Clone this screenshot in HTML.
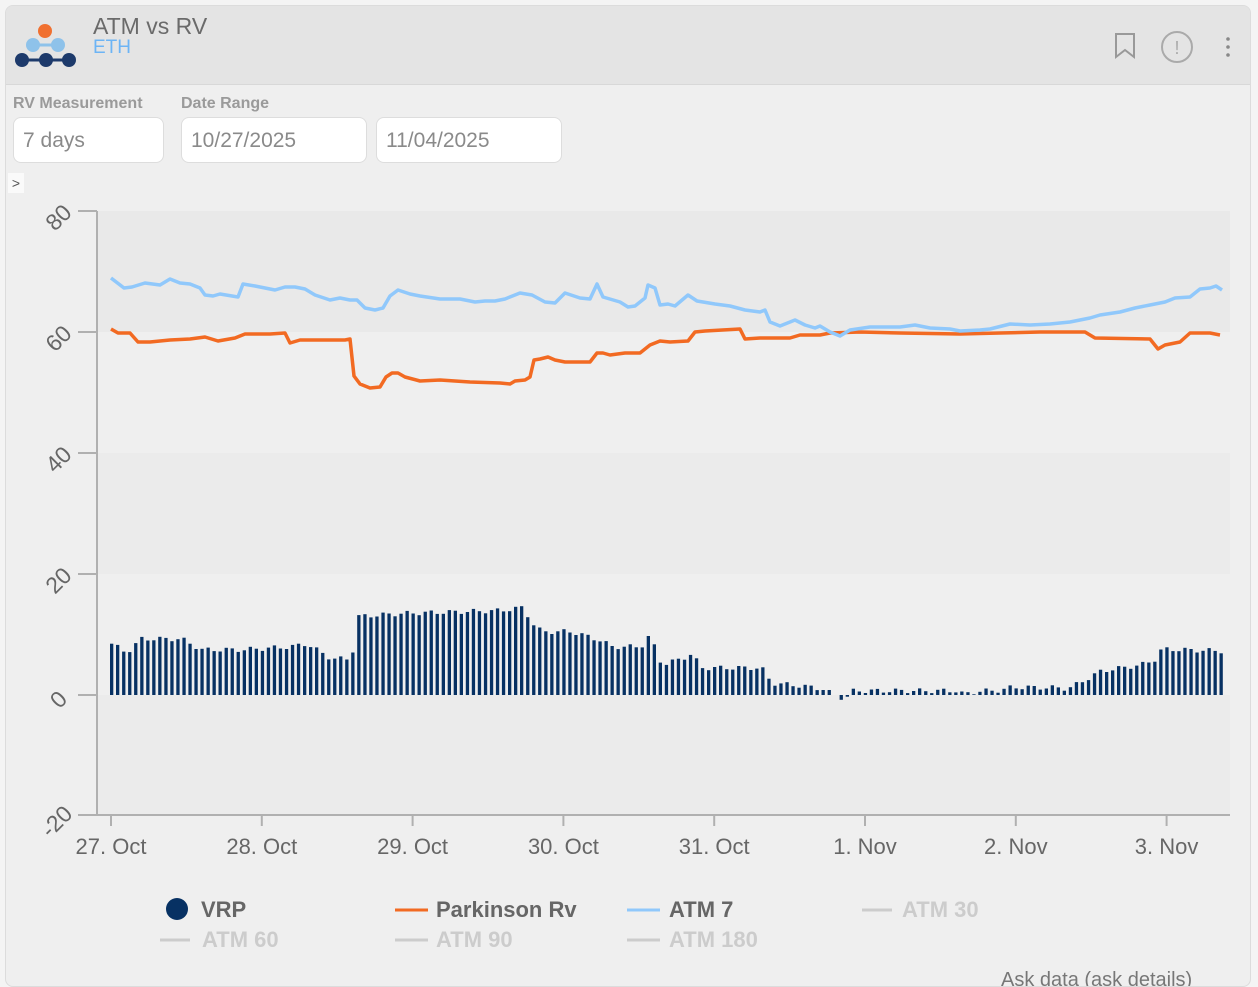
<!DOCTYPE html>
<html><head><meta charset="utf-8"><style>
body{margin:0;width:1258px;height:974px;overflow:hidden;background:#f4f4f4;font-family:"Liberation Sans",sans-serif;}
.card{position:absolute;left:5px;top:5px;width:1244px;height:980px;background:#efefef;border:1px solid #dcdcdc;border-radius:8px;overflow:hidden}
.hdr{position:absolute;left:0;top:0;width:100%;height:78px;background:#e4e4e4;border-bottom:1px solid #d8d8d8}
.lbl{position:absolute;top:89px;font-size:16px;font-weight:bold;color:#9a9a9a}
.inp{position:absolute;top:111px;height:46px;background:#fff;border:1.5px solid #ddd;border-radius:8px;box-sizing:border-box;font-size:21px;color:#8a8a8a;padding:11px 9px}
</style></head><body>
<div class="card">
<div class="hdr">
<svg width="80" height="70" style="position:absolute;left:2px;top:10px">
<line x1="14" y1="44" x2="62" y2="44" stroke="#1d3a6b" stroke-width="3"/>
<line x1="25" y1="29" x2="50" y2="29" stroke="#8ec2ea" stroke-width="3"/>
<circle cx="37" cy="15" r="7" fill="#f07030"/>
<circle cx="25" cy="29" r="7" fill="#8ec2ea"/><circle cx="50" cy="29" r="7" fill="#8ec2ea"/>
<circle cx="14" cy="44" r="7" fill="#1d3a6b"/><circle cx="38" cy="44" r="7" fill="#1d3a6b"/><circle cx="61" cy="44" r="7" fill="#1d3a6b"/>
</svg>
<div style="position:absolute;left:87px;top:7px;font-size:23px;color:#6a6a6a">ATM vs RV</div>
<div style="position:absolute;left:87px;top:31px;font-size:19px;color:#6cb4f5">ETH</div>
<svg width="140" height="40" style="position:absolute;left:1100px;top:22px">
<path d="M10 6 h18 v23 l-9 -7 l-9 7z" fill="none" stroke="#999" stroke-width="2"/>
<circle cx="71" cy="19" r="15" fill="none" stroke="#aaa" stroke-width="2"/>
<text x="71" y="26" font-size="18" fill="#aaa" text-anchor="middle" font-family="Liberation Sans">!</text>
<circle cx="122" cy="11" r="1.8" fill="#888"/><circle cx="122" cy="19" r="1.8" fill="#888"/><circle cx="122" cy="27" r="1.8" fill="#888"/>
</svg>
</div>
<div class="lbl" style="left:7px">RV Measurement</div>
<div class="lbl" style="left:175px">Date Range</div>
<div class="inp" style="left:7px;width:151px">7 days</div>
<div class="inp" style="left:175px;width:186px">10/27/2025</div>
<div class="inp" style="left:370px;width:186px">11/04/2025</div>
<div style="position:absolute;left:2px;top:167px;width:16px;height:20px;background:#fafafa;font-size:14px;color:#555;text-align:center;line-height:20px">&gt;</div>
<div style="position:absolute;left:995px;top:963px;font-size:20px;color:#777">Ask data (ask details)</div>
</div>
<svg id="ch" width="1258" height="974" style="position:absolute;left:0;top:0" font-family="Liberation Sans">
<rect x="97" y="211" width="1133" height="121" fill="#e9e9e9"/>
<rect x="97" y="453" width="1133" height="121" fill="#ebebeb"/>
<rect x="97" y="695" width="1133" height="120" fill="#ebebeb"/>
<g id="bars" fill="#073163"></g>
<path id="orng" fill="none" stroke="#f26a22" stroke-width="3.5" stroke-linejoin="round"/>
<path id="blue" fill="none" stroke="#90c8fb" stroke-width="3.5" stroke-linejoin="round"/>
<line x1="97" y1="211" x2="97" y2="815" stroke="#b0b0b0" stroke-width="2"/>
<line x1="97" y1="815" x2="1230" y2="815" stroke="#b0b0b0" stroke-width="2"/>
<g stroke="#b0b0b0" stroke-width="2">
<line x1="78" y1="211" x2="97" y2="211"/><line x1="78" y1="332" x2="97" y2="332"/><line x1="78" y1="453" x2="97" y2="453"/><line x1="78" y1="574" x2="97" y2="574"/><line x1="78" y1="695" x2="97" y2="695"/><line x1="78" y1="815" x2="97" y2="815"/>
</g>
<g font-size="23" fill="#666" text-anchor="middle">
<text transform="translate(64,223) rotate(-45)">80</text>
<text transform="translate(64,344) rotate(-45)">60</text>
<text transform="translate(64,465) rotate(-45)">40</text>
<text transform="translate(64,586) rotate(-45)">20</text>
<text transform="translate(64,705) rotate(-45)">0</text>
<text transform="translate(62,827) rotate(-45)">-20</text>
</g>
<g id="xt" font-size="22" fill="#666" text-anchor="middle"></g>
<g font-size="22" font-weight="bold">
<circle cx="177" cy="909" r="11" fill="#073163"/><text x="201" y="917" fill="#666">VRP</text>
<line x1="395" y1="910" x2="428" y2="910" stroke="#f26a22" stroke-width="3"/><text x="436" y="917" fill="#666">Parkinson Rv</text>
<line x1="627" y1="910" x2="660" y2="910" stroke="#90c8fb" stroke-width="3"/><text x="669" y="917" fill="#666">ATM 7</text>
<line x1="862" y1="910" x2="892" y2="910" stroke="#ccc" stroke-width="3"/><text x="902" y="917" fill="#ccc">ATM 30</text>
<line x1="160" y1="940" x2="190" y2="940" stroke="#ccc" stroke-width="3"/><text x="202" y="947" fill="#ccc">ATM 60</text>
<line x1="395" y1="940" x2="428" y2="940" stroke="#ccc" stroke-width="3"/><text x="436" y="947" fill="#ccc">ATM 90</text>
<line x1="627" y1="940" x2="660" y2="940" stroke="#ccc" stroke-width="3"/><text x="669" y="947" fill="#ccc">ATM 180</text>
</g>
</svg>
<script>
var B=[[111,278],[124,288],[132,287],[145,283],[160,285],[170,279],[180,283],[190,284],[200,288],[205,295],[213,296],[220,294],[238,297],[243,284],[255,286],[265,288],[275,290],[285,287],[295,287],[305,289],[315,295],[330,300],[340,298],[350,300],[357,300],[365,308],[375,310],[383,308],[390,296],[398,290],[410,294],[420,296],[440,299],[460,299],[475,302],[485,301],[495,301],[505,299],[520,293],[532,295],[545,302],[555,303],[565,293],[580,298],[590,299],[597,284],[603,297],[620,302],[628,307],[635,306],[645,298],[648,285],[655,288],[660,305],[668,304],[675,306],[688,295],[697,301],[715,304],[730,306],[745,310],[760,312],[765,310],[770,322],[780,326],[795,320],[805,325],[815,328],[820,326],[830,332],[840,336],[850,330],[870,327],[900,327],[915,325],[930,328],[950,329],[960,331],[980,330],[990,329],[1010,324],[1030,325],[1050,324],[1070,322],[1090,318],[1100,315],[1120,312],[1135,308],[1150,305],[1165,302],[1175,298],[1190,297],[1200,289],[1210,288],[1216,286],[1222,290]];
var O=[[111,329],[118,333],[130,333],[138,342],[150,342],[170,340],[190,339],[205,337],[218,341],[235,338],[245,334],[270,334],[285,333],[290,343],[300,340],[320,340],[345,340],[350,339],[354,376],[360,384],[370,388],[380,387],[386,377],[392,373],[398,373],[405,377],[420,381],[440,380],[470,382],[500,383],[510,384],[515,381],[525,380],[530,377],[534,360],[540,359],[548,357],[555,360],[565,362],[590,362],[597,353],[603,353],[610,355],[625,353],[640,353],[650,345],[660,341],[670,342],[688,341],[695,332],[705,331],[740,329],[745,339],[760,338],[790,338],[800,335],[820,335],[830,333],[860,332],[900,333],[960,334],[1000,333],[1040,332],[1085,332],[1095,338],[1150,339],[1158,349],[1165,345],[1180,342],[1190,333],[1210,333],[1220,335]];
function p(a){return 'M'+a.map(function(q){return q.join(',')}).join('L');}
document.getElementById('blue').setAttribute('d',p(B));
document.getElementById('orng').setAttribute('d',p(O));
var V=[[110,8.5],[125,7],[140,9.3],[180,9.3],[200,7.5],[240,7.5],[290,8],[305,8.5],[330,6],[350,6],[356,13],[400,13.5],[500,14],[522,14.5],[530,12],[540,10.5],[570,10.5],[600,9],[610,8],[640,8],[645,10],[655,7.5],[660,5],[680,6],[690,6.8],[700,4.5],[760,4.5],[770,2],[800,1.5],[822,1],[830,0.2],[837,-0.4],[845,-0.4],[852,0.7],[955,0.7],[962,0.1],[975,0.6],[1000,0.8],[1010,1.3],[1060,1.2],[1066,1],[1080,2.2],[1100,4],[1140,5],[1155,6],[1160,7.6],[1220,7.3]];
function vi(x){for(var i=1;i<V.length;i++){if(x<=V[i][0]){var a=V[i-1],b=V[i];return a[1]+(b[1]-a[1])*(x-a[0])/(b[0]-a[0]);}}return V[V.length-1][1];}
var g=document.getElementById('bars'),h='';
for(var k=0;k<186;k++){var x=110+k*6.03;if(x>1222)break;var v=vi(x)+(Math.sin(k*1.7)*0.4);var hh=v*6.04;
if(Math.abs(hh)<0.5)continue;
h+='<rect x="'+x.toFixed(1)+'" y="'+(hh>0?695-hh:695).toFixed(1)+'" width="3.3" height="'+Math.abs(hh).toFixed(1)+'"/>';}
g.innerHTML=h;
var L=['27. Oct','28. Oct','29. Oct','30. Oct','31. Oct','1. Nov','2. Nov','3. Nov'],t='';
for(var i=0;i<8;i++){var x=111+i*150.8;t+='<line x1="'+x+'" y1="815" x2="'+x+'" y2="826" stroke="#b0b0b0" stroke-width="2"/><text x="'+x+'" y="854">'+L[i]+'</text>';}
document.getElementById('xt').innerHTML=t;
</script>
</body></html>
